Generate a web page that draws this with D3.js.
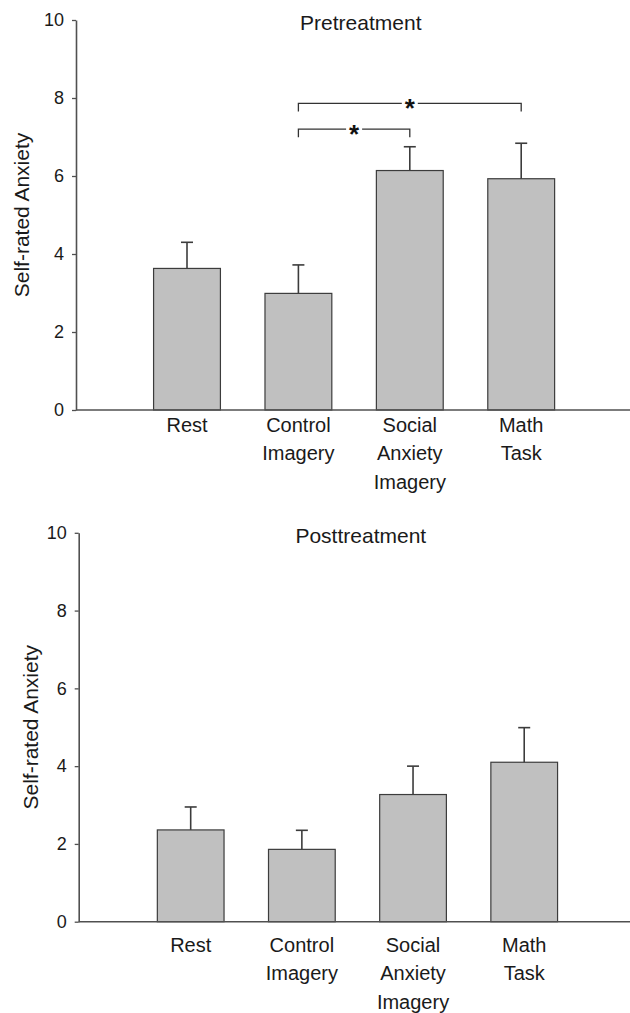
<!DOCTYPE html>
<html>
<head>
<meta charset="utf-8">
<script src="https://cdn.jsdelivr.net/npm/d3@7"></script>
<style>
  html, body { margin: 0; padding: 0; background: #fff; }
  svg { display: block; font-family: "Liberation Sans", Arial, Helvetica, sans-serif; }
</style>
</head>
<body>
<svg id="chart" width="630" height="1013"></svg>
<script>
// ---- data ----
const categories = ["Rest", "Control\nImagery", "Social\nAnxiety\nImagery", "Math\nTask"];
const yTicks = [0, 2, 4, 6, 8, 10];
const preMeans = [3.63, 2.99, 6.14, 5.93];
const preErrors = [0.67, 0.73, 0.61, 0.91];
const postMeans = [2.36, 1.86, 3.27, 4.10];
const postErrors = [0.59, 0.49, 0.73, 0.89];
const preBrackets = [
  { from: 1, to: 3, level: 7.86 },
  { from: 1, to: 2, level: 7.20 }
];
const postBrackets = [];
const titles = ["Pretreatment", "Posttreatment"];
const yLabel = "Self-rated Anxiety";

// ---- layout ----
const panels = [
  { title: titles[0], means: preMeans, errs: preErrors, brackets: preBrackets,
    axisX: 76, yTop: 20, yBottom: 410, xRange: [131.3, 576.9],
    titleY: 30, labelX: 28.5, catY: 432.3 },
  { title: titles[1], means: postMeans, errs: postErrors, brackets: postBrackets,
    axisX: 78.7, yTop: 532.8, yBottom: 921.7, xRange: [135.1, 579.8],
    titleY: 543.3, labelX: 38, catY: 952.3 }
];

const svg = d3.select("#chart");
const axisColor = "#505050";
const barFill = "#c0c0c0";
const barStroke = "#3c3c3c";

panels.forEach(p => {
  const g = svg.append("g");
  const y = d3.scaleLinear().domain([0, 10]).range([p.yBottom, p.yTop]);
  const x = d3.scaleBand().domain(categories).range(p.xRange)
    .paddingInner(0.4).paddingOuter(0.2);

  // bars
  g.selectAll("rect.bar").data(p.means).join("rect")
    .attr("class", "bar")
    .attr("x", (d, i) => x(categories[i]))
    .attr("width", x.bandwidth())
    .attr("y", d => y(d))
    .attr("height", d => y(0) - y(d))
    .attr("fill", barFill)
    .attr("stroke", barStroke)
    .attr("stroke-width", 1.2);

  // error bars
  const cx = i => x(categories[i]) + x.bandwidth() / 2;
  g.selectAll("line.err").data(p.means).join("line")
    .attr("class", "err")
    .attr("x1", (d, i) => cx(i)).attr("x2", (d, i) => cx(i))
    .attr("y1", d => y(d)).attr("y2", (d, i) => y(d + p.errs[i]))
    .attr("stroke", barStroke).attr("stroke-width", 1.6);
  g.selectAll("line.cap").data(p.means).join("line")
    .attr("class", "cap")
    .attr("x1", (d, i) => cx(i) - 6).attr("x2", (d, i) => cx(i) + 6)
    .attr("y1", (d, i) => y(d + p.errs[i])).attr("y2", (d, i) => y(d + p.errs[i]))
    .attr("stroke", barStroke).attr("stroke-width", 1.6);

  // y axis
  const yAxis = d3.axisLeft(y).tickValues(yTicks).tickSize(4).tickSizeOuter(0).tickPadding(8);
  const ya = g.append("g").attr("transform", `translate(${p.axisX},0)`).call(yAxis);
  ya.select(".domain").attr("stroke", axisColor).attr("stroke-width", 1.6);
  ya.selectAll(".tick line").attr("stroke", axisColor).attr("stroke-width", 1.3);
  ya.selectAll(".tick text").attr("font-size", 18).attr("fill", "#1a1a1a")
    .attr("font-family", "Liberation Sans, Arial, sans-serif");

  // x axis baseline
  g.append("line")
    .attr("x1", p.axisX).attr("x2", 630)
    .attr("y1", y(0)).attr("y2", y(0))
    .attr("stroke", axisColor).attr("stroke-width", 1.6);

  // category labels
  categories.forEach((c, i) => {
    const t = g.append("text")
      .attr("x", cx(i)).attr("y", p.catY)
      .attr("text-anchor", "middle")
      .attr("font-size", 20).attr("fill", "#1a1a1a");
    c.split("\n").forEach((line, k) => {
      t.append("tspan").attr("x", cx(i)).attr("y", p.catY + k * 28.1).text(line);
    });
  });

  // title
  g.append("text")
    .attr("x", 360.8).attr("y", p.titleY)
    .attr("text-anchor", "middle")
    .attr("font-size", 21).attr("fill", "#1a1a1a")
    .text(p.title);

  // y label
  g.append("text")
    .attr("transform", `translate(${p.labelX},${y(5)}) rotate(-90)`)
    .attr("text-anchor", "middle")
    .attr("font-size", 21).attr("fill", "#1a1a1a")
    .text(yLabel);

  // significance brackets
  p.brackets.forEach(b => {
    const x1 = cx(b.from), x2 = cx(b.to), by = y(b.level);
    const mid = (x1 + x2) / 2, gap = 8, drop = 8;
    g.append("path")
      .attr("d", `M${x1},${by + drop}V${by}H${mid - gap}M${mid + gap},${by}H${x2}V${by + drop}`)
      .attr("fill", "none").attr("stroke", "#333").attr("stroke-width", 1.3);
    g.append("text")
      .attr("x", mid).attr("y", by + 14)
      .attr("text-anchor", "middle")
      .attr("font-size", 26).attr("font-weight", "bold").attr("fill", "#111")
      .text("*");
  });
});
</script>
</body>
</html>
